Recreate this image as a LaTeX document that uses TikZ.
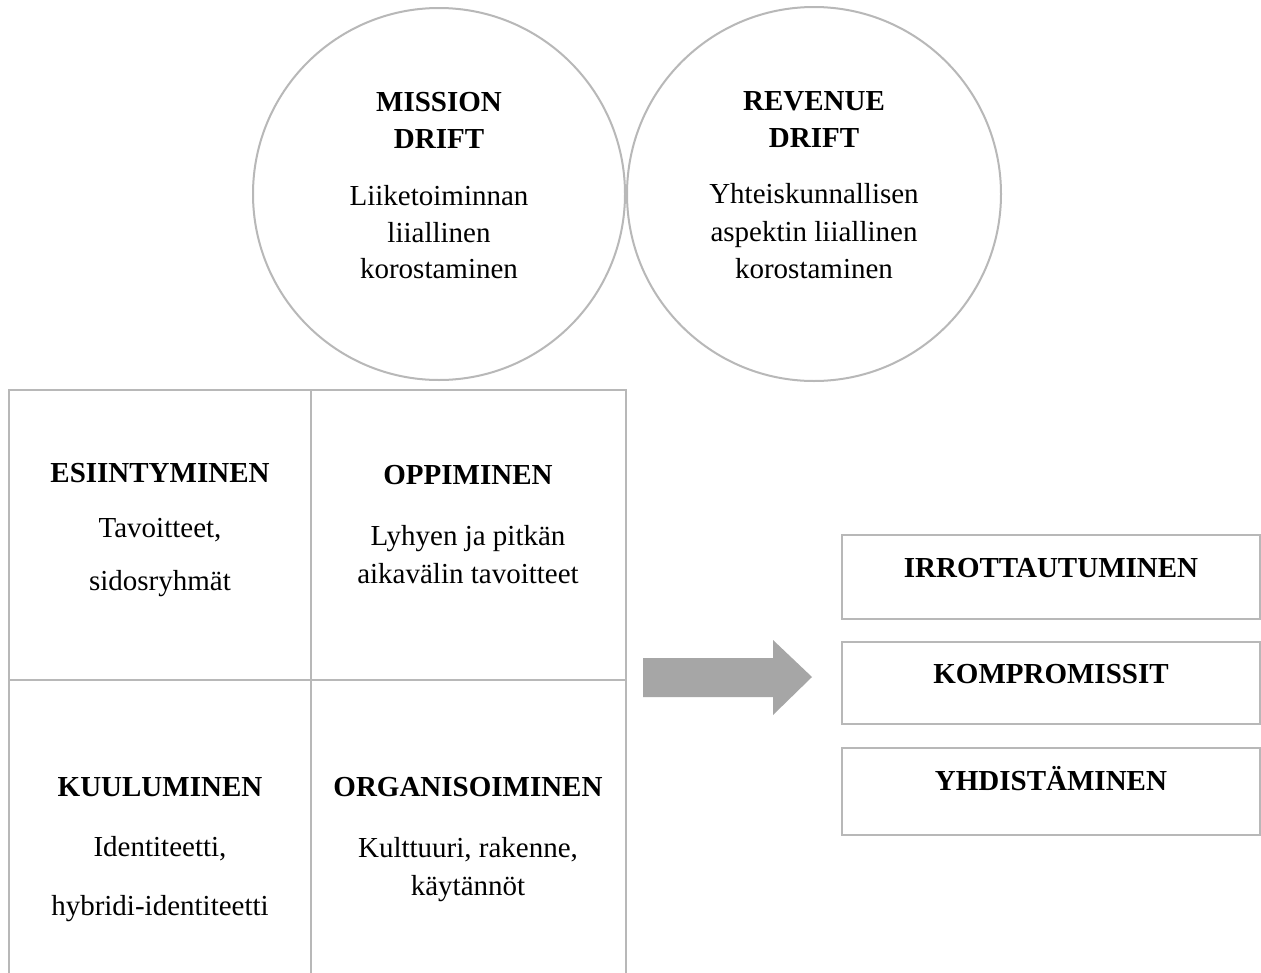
\documentclass[tikz,border=0pt]{standalone}
\usepackage{fontspec}
\setmainfont{Liberation Serif}
\begin{document}
\begin{tikzpicture}[x=1pt,y=-1pt,
  frame/.style={draw=black!28, line width=2pt},
  ttl/.style={anchor=base, inner sep=0pt, font=\fontsize{29}{37}\selectfont\bfseries},
  txt/.style={anchor=base, inner sep=0pt, font=\fontsize{29}{37}\selectfont}]
\useasboundingbox (0,0) rectangle (1261,972);
\fill[white] (0,0) rectangle (1261,972);
% circles
\node[frame, circle, minimum size=372pt, inner sep=0pt] (c1) at (439,194) {};
\node[frame, circle, minimum size=374pt, inner sep=0pt] (c2) at (814,194) {};
\node[ttl] (c1a) at (439,111) {MISSION};
\node[ttl] (c1b) at (439,148) {DRIFT};
\node[txt] (c1c) at (439,205) {Liiketoiminnan};
\node[txt] (c1d) at (439,242) {liiallinen};
\node[txt] (c1e) at (439,278) {korostaminen};
\node[ttl] (c2a) at (814,110) {REVENUE};
\node[ttl] (c2b) at (814,147) {DRIFT};
\node[txt] (c2c) at (814,203) {Yhteiskunnallisen};
\node[txt] (c2d) at (814,241) {aspektin liiallinen};
\node[txt] (c2e) at (814,278) {korostaminen};
% grid
\draw[frame] (9,975) -- (9,390) -- (626,390) -- (626,975);
\draw[frame] (311,390) -- (311,975);
\draw[frame] (9,680) -- (626,680);
\node[ttl] (g1a) at (160,482) {ESIINTYMINEN};
\node[txt] (g1b) at (160,537) {Tavoitteet,};
\node[txt] (g1c) at (160,590) {sidosryhmät};
\node[ttl] (g2a) at (468,484) {OPPIMINEN};
\node[txt] (g2b) at (468,545) {Lyhyen ja pitkän};
\node[txt] (g2c) at (468,583) {aikavälin tavoitteet};
\node[ttl] (g3a) at (160,796) {KUULUMINEN};
\node[txt] (g3b) at (160,856) {Identiteetti,};
\node[txt] (g3c) at (160,915) {hybridi-identiteetti};
\node[ttl] (g4a) at (468,796) {ORGANISOIMINEN};
\node[txt] (g4b) at (468,857) {Kulttuuri, rakenne,};
\node[txt] (g4c) at (468,895) {käytännöt};
% arrow
\fill[black!35] (643,658) -- (773,658) -- (773,640) -- (812,677) -- (773,715) -- (773,697) -- (643,697) -- cycle;
% boxes
\draw[frame] (842,535) rectangle (1260,619);
\draw[frame] (842,642) rectangle (1260,724);
\draw[frame] (842,748) rectangle (1260,835);
\node[ttl] (b1) at (1051,577) {IRROTTAUTUMINEN};
\node[ttl] (b2) at (1051,683) {KOMPROMISSIT};
\node[ttl] (b3) at (1051,790) {YHDISTÄMINEN};
\end{tikzpicture}
\end{document}
